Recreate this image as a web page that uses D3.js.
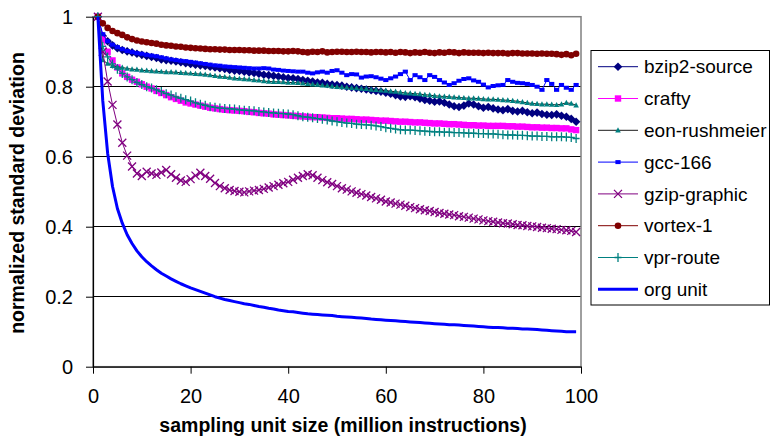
<!DOCTYPE html>
<html>
<head>
<meta charset="utf-8">
<script src="https://cdn.jsdelivr.net/npm/d3@7"></script>
<style>
  html, body { margin: 0; padding: 0; background: #fff; }
  svg { display: block; font-family: Arial, "Liberation Sans", sans-serif; }
</style>
</head>
<body>
<svg id="chart" width="771" height="440"></svg>
<script>
// Sampling unit sizes (million instructions), one sample per unit
const unitSizes = d3.range(1, 100);

const seriesNames = ["bzip2-source", "crafty", "eon-rushmeier", "gcc-166",
                     "gzip-graphic", "vortex-1", "vpr-route", "org unit"];

const bzip2Source = [
  1.000, 0.945, 0.930, 0.918, 0.910, 0.905, 0.901, 0.898, 0.894, 0.891,
  0.888, 0.885, 0.882, 0.878, 0.876, 0.874, 0.872, 0.870, 0.867, 0.865,
  0.863, 0.861, 0.859, 0.857, 0.855, 0.853, 0.851, 0.848, 0.846, 0.845,
  0.843, 0.841, 0.839, 0.837, 0.834, 0.833, 0.831, 0.829, 0.827, 0.825,
  0.824, 0.822, 0.819, 0.817, 0.815, 0.812, 0.811, 0.808, 0.806, 0.805,
  0.803, 0.800, 0.798, 0.796, 0.794, 0.792, 0.790, 0.788, 0.786, 0.783,
  0.780, 0.776, 0.772, 0.771, 0.773, 0.770, 0.766, 0.762, 0.760, 0.757,
  0.758, 0.754, 0.749, 0.744, 0.742, 0.746, 0.752, 0.749, 0.744, 0.740,
  0.742, 0.738, 0.735, 0.733, 0.736, 0.731, 0.729, 0.731, 0.727, 0.724,
  0.726, 0.722, 0.720, 0.719, 0.721, 0.717, 0.714, 0.708, 0.700
];

const crafty = [
  1.000, 0.935, 0.900, 0.875, 0.855, 0.838, 0.828, 0.820, 0.814, 0.807,
  0.800, 0.795, 0.788, 0.782, 0.776, 0.770, 0.765, 0.760, 0.755, 0.752,
  0.749, 0.746, 0.743, 0.740, 0.738, 0.736, 0.734, 0.733, 0.732, 0.731,
  0.730, 0.728, 0.727, 0.725, 0.724, 0.723, 0.721, 0.720, 0.719, 0.718,
  0.717, 0.716, 0.715, 0.714, 0.713, 0.713, 0.712, 0.711, 0.710, 0.710,
  0.709, 0.708, 0.708, 0.707, 0.706, 0.706, 0.705, 0.704, 0.703, 0.703,
  0.702, 0.701, 0.700, 0.700, 0.699, 0.698, 0.698, 0.697, 0.696, 0.695,
  0.695, 0.694, 0.693, 0.693, 0.692, 0.691, 0.690, 0.690, 0.689, 0.689,
  0.688, 0.688, 0.688, 0.688, 0.687, 0.687, 0.686, 0.686, 0.685, 0.684,
  0.684, 0.683, 0.683, 0.682, 0.682, 0.681, 0.681, 0.678, 0.676
];

const eonRushmeier = [
  1.000, 0.876, 0.866, 0.860, 0.857, 0.855, 0.852, 0.850, 0.849, 0.847,
  0.846, 0.845, 0.844, 0.843, 0.842, 0.842, 0.841, 0.840, 0.839, 0.838,
  0.837, 0.836, 0.835, 0.833, 0.831, 0.829, 0.828, 0.826, 0.824, 0.823,
  0.822, 0.821, 0.819, 0.818, 0.816, 0.815, 0.814, 0.814, 0.813, 0.812,
  0.812, 0.811, 0.810, 0.808, 0.807, 0.806, 0.804, 0.803, 0.801, 0.800,
  0.799, 0.798, 0.797, 0.796, 0.795, 0.794, 0.792, 0.791, 0.790, 0.789,
  0.787, 0.786, 0.784, 0.782, 0.781, 0.780, 0.779, 0.777, 0.776, 0.774,
  0.773, 0.772, 0.771, 0.770, 0.769, 0.768, 0.767, 0.767, 0.766, 0.765,
  0.764, 0.764, 0.763, 0.762, 0.761, 0.760, 0.758, 0.756, 0.754, 0.752,
  0.751, 0.750, 0.750, 0.749, 0.748, 0.750, 0.754, 0.752, 0.747
];

const gcc166 = [
  1.000, 0.950, 0.930, 0.920, 0.913, 0.907, 0.902, 0.899, 0.896, 0.894,
  0.891, 0.889, 0.887, 0.884, 0.881, 0.878, 0.876, 0.874, 0.873, 0.871,
  0.869, 0.867, 0.865, 0.863, 0.861, 0.860, 0.858, 0.857, 0.856, 0.855,
  0.854, 0.853, 0.852, 0.852, 0.853, 0.852, 0.849, 0.848, 0.846, 0.845,
  0.844, 0.843, 0.843, 0.840, 0.838, 0.841, 0.843, 0.840, 0.845, 0.847,
  0.840, 0.833, 0.836, 0.835, 0.826, 0.829, 0.830, 0.827, 0.823, 0.819,
  0.824, 0.829, 0.836, 0.843, 0.819, 0.833, 0.827, 0.819, 0.833, 0.828,
  0.819, 0.812, 0.805, 0.810, 0.817, 0.822, 0.824, 0.818, 0.814, 0.806,
  0.798, 0.802, 0.804, 0.805, 0.819, 0.814, 0.811, 0.810, 0.808, 0.805,
  0.800, 0.791, 0.819, 0.808, 0.791, 0.805, 0.797, 0.791, 0.805
];

const gzipGraphic = [
  1.000, 0.900, 0.815, 0.748, 0.692, 0.640, 0.603, 0.572, 0.552, 0.545,
  0.557, 0.552, 0.548, 0.555, 0.562, 0.550, 0.540, 0.532, 0.528, 0.536,
  0.546, 0.554, 0.545, 0.537, 0.525, 0.516, 0.510, 0.505, 0.502, 0.500,
  0.498, 0.501, 0.503, 0.505, 0.508, 0.512, 0.516, 0.520, 0.524, 0.528,
  0.534, 0.540, 0.545, 0.550, 0.547, 0.540, 0.533, 0.527, 0.522, 0.516,
  0.510, 0.506, 0.501, 0.497, 0.493, 0.489, 0.485, 0.481, 0.477, 0.472,
  0.469, 0.466, 0.463, 0.460, 0.456, 0.453, 0.450, 0.447, 0.445, 0.442,
  0.439, 0.437, 0.435, 0.433, 0.430, 0.428, 0.426, 0.423, 0.421, 0.418,
  0.416, 0.414, 0.412, 0.410, 0.409, 0.407, 0.405, 0.404, 0.402, 0.401,
  0.399, 0.397, 0.396, 0.394, 0.393, 0.391, 0.390, 0.388, 0.385
];

const vortex1 = [
  1.000, 0.981, 0.968, 0.959, 0.953, 0.948, 0.941, 0.936, 0.932, 0.929,
  0.927, 0.925, 0.923, 0.920, 0.918, 0.917, 0.915, 0.914, 0.912, 0.911,
  0.910, 0.909, 0.908, 0.907, 0.907, 0.906, 0.906, 0.905, 0.905, 0.905,
  0.904, 0.904, 0.903, 0.903, 0.903, 0.902, 0.902, 0.902, 0.901, 0.901,
  0.902, 0.901, 0.899, 0.898, 0.900, 0.899, 0.901, 0.898, 0.899, 0.900,
  0.900, 0.899, 0.899, 0.900, 0.899, 0.899, 0.898, 0.899, 0.899, 0.898,
  0.899, 0.897, 0.899, 0.898, 0.896, 0.898, 0.897, 0.899, 0.897, 0.896,
  0.898, 0.897, 0.899, 0.898, 0.896, 0.898, 0.897, 0.897, 0.897, 0.896,
  0.897, 0.896, 0.896, 0.896, 0.895, 0.896, 0.896, 0.895, 0.895, 0.895,
  0.894, 0.895, 0.894, 0.894, 0.893, 0.891, 0.893, 0.890, 0.894
];

const vprRoute = [
  1.000, 0.915, 0.885, 0.865, 0.850, 0.838, 0.828, 0.820, 0.812, 0.806,
  0.800, 0.796, 0.791, 0.786, 0.780, 0.776, 0.771, 0.767, 0.763, 0.759,
  0.754, 0.750, 0.747, 0.743, 0.741, 0.739, 0.738, 0.737, 0.736, 0.734,
  0.733, 0.732, 0.731, 0.729, 0.728, 0.726, 0.725, 0.724, 0.723, 0.722,
  0.720, 0.717, 0.714, 0.713, 0.711, 0.709, 0.707, 0.705, 0.702, 0.700,
  0.698, 0.696, 0.695, 0.693, 0.692, 0.691, 0.690, 0.688, 0.686, 0.683,
  0.681, 0.679, 0.677, 0.676, 0.676, 0.675, 0.674, 0.673, 0.672, 0.671,
  0.671, 0.670, 0.670, 0.669, 0.669, 0.668, 0.667, 0.667, 0.666, 0.666,
  0.665, 0.665, 0.664, 0.663, 0.662, 0.662, 0.661, 0.661, 0.660, 0.659,
  0.659, 0.658, 0.658, 0.657, 0.657, 0.657, 0.656, 0.655, 0.652
];

const orgUnit = [
  1.000, 0.760, 0.610, 0.515, 0.452, 0.410, 0.377, 0.352, 0.331, 0.314,
  0.300, 0.288, 0.277, 0.267, 0.259, 0.251, 0.244, 0.237, 0.231, 0.225,
  0.220, 0.215, 0.210, 0.205, 0.200, 0.196, 0.192, 0.189, 0.186, 0.183,
  0.180, 0.178, 0.175, 0.172, 0.170, 0.167, 0.165, 0.162, 0.160, 0.158,
  0.157, 0.155, 0.153, 0.151, 0.150, 0.149, 0.148, 0.147, 0.146, 0.144,
  0.143, 0.142, 0.141, 0.140, 0.139, 0.138, 0.136, 0.135, 0.134, 0.133,
  0.132, 0.131, 0.130, 0.129, 0.128, 0.127, 0.126, 0.125, 0.124, 0.123,
  0.122, 0.121, 0.120, 0.120, 0.119, 0.118, 0.117, 0.116, 0.115, 0.114,
  0.113, 0.112, 0.112, 0.111, 0.110, 0.110, 0.109, 0.108, 0.108, 0.107,
  0.106, 0.105, 0.104, 0.103, 0.102, 0.101, 0.100, 0.100, 0.100
];

const xTicks = [0, 20, 40, 60, 80, 100];
const yTicks = [0, 0.2, 0.4, 0.6, 0.8, 1];
const yTickLabels = ["0", "0.2", "0.4", "0.6", "0.8", "1"];

const xTitle = "sampling unit size (million instructions)";
const yTitle = "normalized standard deviation";

// Marker path builders (centered on 0,0)
const markerPaths = {
  diamond: () => "M0,-4.3L4.3,0L0,4.3L-4.3,0Z",
  square: () => "M-3.2,-3.2H3.2V3.2H-3.2Z",
  triangle: () => "M0,-3L2.8,2.2H-2.8Z",
  smallSquare: () => "M-2.6,-2H2.6V2H-2.6Z",
  cross: () => "M-4,-4L4,4M4,-4L-4,4",
  circle: () => "M3.3,0A3.3,3.3,0,1,1,-3.3,0A3.3,3.3,0,1,1,3.3,0Z",
  plus: () => "M0,-4.5V4.5M-3.5,0H3.5",
  none: () => ""
};

const styles = [
  { line: "#000080", lw: 1, marker: "diamond", fill: "#000080", stroke: "none" },
  { line: "#FF00FF", lw: 1, marker: "square", fill: "#FF00FF", stroke: "none" },
  { line: "#1a1a1a", lw: 1, marker: "triangle", fill: "#008080", stroke: "none" },
  { line: "#0000FF", lw: 1, marker: "smallSquare", fill: "#0000FF", stroke: "none" },
  { line: "#800080", lw: 1, marker: "cross", fill: "none", stroke: "#800080", sw: 1.3 },
  { line: "#800000", lw: 1, marker: "circle", fill: "#800000", stroke: "none" },
  { line: "#008080", lw: 1, marker: "plus", fill: "none", stroke: "#008080", sw: 1.3 },
  { line: "#0000FF", lw: 3, marker: "none", fill: "none", stroke: "none" }
];

const seriesValues = [bzip2Source, crafty, eonRushmeier, gcc166,
                      gzipGraphic, vortex1, vprRoute, orgUnit];

const series = seriesNames.map((name, i) => ({
  name,
  style: styles[i],
  points: unitSizes.map((u, j) => ({ x: u, y: seriesValues[i][j] }))
}));

const svg = d3.select("#chart");
const plot = { left: 93, right: 581, top: 16.7, bottom: 366.7 };

const x = d3.scaleLinear().domain([0, 100]).range([plot.left, plot.right]);
const y = d3.scaleLinear().domain([0, 1]).range([plot.bottom, plot.top]);

// Gridlines
svg.append("g")
  .selectAll("line")
  .data(yTicks.filter(t => t > 0 && t < 1))
  .join("line")
  .attr("x1", plot.left).attr("x2", plot.right)
  .attr("y1", d => y(d)).attr("y2", d => y(d))
  .attr("stroke", "#000").attr("stroke-width", 1)
  .attr("shape-rendering", "crispEdges");

// Plot-area frame
svg.append("rect")
  .attr("x", plot.left).attr("y", plot.top)
  .attr("width", plot.right - plot.left).attr("height", plot.bottom - plot.top)
  .attr("fill", "none").attr("stroke", "#808080").attr("stroke-width", 1.5);

// Axes
const yAxis = d3.axisLeft(y)
  .tickValues(yTicks)
  .tickFormat((d, i) => yTickLabels[i])
  .tickSizeInner(7).tickSizeOuter(0).tickPadding(13);
const gy = svg.append("g").attr("transform", `translate(${plot.left},0)`).call(yAxis);

const xAxis = d3.axisBottom(x)
  .tickValues(xTicks)
  .tickFormat(d3.format("d"))
  .tickSizeInner(7).tickSizeOuter(0).tickPadding(15);
const gx = svg.append("g").attr("transform", `translate(0,${plot.bottom})`).call(xAxis);

[gx, gy].forEach(g => {
  g.select(".domain").attr("stroke", "#000").attr("stroke-width", 1.2);
  g.selectAll(".tick line").attr("stroke", "#000").attr("stroke-width", 1);
  g.selectAll(".tick text").attr("font-size", 20).attr("fill", "#000")
    .attr("font-family", "Arial, 'Liberation Sans', sans-serif");
});

// Axis titles
svg.append("text")
  .attr("x", 343).attr("y", 432)
  .attr("text-anchor", "middle")
  .attr("font-size", 19.5).attr("font-weight", "bold")
  .text(xTitle);

svg.append("text")
  .attr("transform", "translate(24,193) rotate(-90)")
  .attr("text-anchor", "middle")
  .attr("font-size", 19.5).attr("font-weight", "bold")
  .text(yTitle);

// Series lines and markers
const line = d3.line().x(d => x(d.x)).y(d => y(d.y));

const sg = svg.append("g").selectAll("g.series")
  .data(series)
  .join("g").attr("class", "series");

sg.append("path")
  .attr("d", d => line(d.points))
  .attr("fill", "none")
  .attr("stroke", d => d.style.line)
  .attr("stroke-width", d => d.style.lw)
  .attr("stroke-linejoin", "round");

sg.each(function (s) {
  if (s.style.marker === "none") return;
  d3.select(this).selectAll("path.marker")
    .data(s.points)
    .join("path")
    .attr("class", "marker")
    .attr("transform", d => `translate(${x(d.x)},${y(d.y)})`)
    .attr("d", markerPaths[s.style.marker]())
    .attr("fill", s.style.fill)
    .attr("stroke", s.style.stroke)
    .attr("stroke-width", s.style.sw || 0);
});

// Legend
const legend = svg.append("g");
legend.append("rect")
  .attr("x", 591).attr("y", 50.5)
  .attr("width", 178.5).attr("height", 254.5)
  .attr("fill", "#fff").attr("stroke", "#000").attr("stroke-width", 1);

const li = legend.selectAll("g.item")
  .data(series)
  .join("g").attr("class", "item")
  .attr("transform", (d, i) => `translate(0,${66.7 + i * 31.8})`);

li.append("line")
  .attr("x1", 598).attr("x2", 638)
  .attr("stroke", d => d.style.line)
  .attr("stroke-width", d => d.style.lw);

li.filter(d => d.style.marker !== "none").append("path")
  .attr("transform", "translate(618,0)")
  .attr("d", d => markerPaths[d.style.marker]())
  .attr("fill", d => d.style.fill)
  .attr("stroke", d => d.style.stroke)
  .attr("stroke-width", d => d.style.sw || 0);

li.append("text")
  .attr("x", 644).attr("y", 0).attr("dy", "0.35em")
  .attr("font-size", 19)
  .text(d => d.name);
</script>
</body>
</html>
